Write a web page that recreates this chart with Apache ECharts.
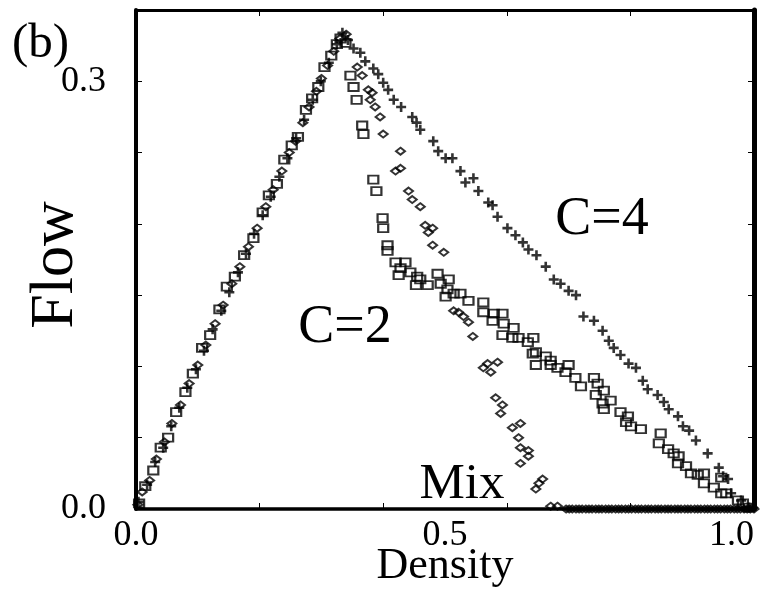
<!DOCTYPE html>
<html>
<head>
<meta charset="utf-8">
<script src="https://cdn.jsdelivr.net/npm/echarts@6/dist/echarts.min.js"></script>
<style>
html,body{margin:0;padding:0;background:#fff;}
#chart{width:775px;height:602px;}
</style>
</head>
<body>
<div id="chart"></div>
<script>
// Density / Flow data: [density, flow]
var c4Points = [
  [0.004,0.005],[0.018,0.017],[0.031,0.033],[0.044,0.043],[0.057,0.058],[0.07,0.071],[0.083,0.085],[0.097,0.098],
  [0.11,0.111],[0.124,0.126],[0.138,0.139],[0.151,0.152],[0.165,0.166],[0.178,0.179],[0.191,0.193],[0.205,0.206],
  [0.218,0.219],[0.232,0.233],[0.245,0.246],[0.259,0.26],[0.272,0.273],[0.286,0.287],[0.299,0.3],[0.312,0.313],
  [0.325,0.326],[0.334,0.334],
  [0.343,0.329],[0.352,0.323],[0.363,0.320],[0.371,0.314],[0.384,0.309],[0.392,0.305],[0.400,0.299],[0.408,0.294],
  [0.417,0.287],[0.429,0.282],[0.447,0.275],[0.454,0.271],[0.460,0.266],[0.481,0.258],[0.489,0.251],[0.501,0.246],
  [0.512,0.246],[0.525,0.237],[0.533,0.229],[0.546,0.232],[0.554,0.223],[0.570,0.215],[0.577,0.213],[0.585,0.205],
  [0.601,0.197],[0.614,0.192],[0.626,0.187],[0.635,0.182],[0.648,0.178],[0.663,0.170],[0.676,0.161],[0.687,0.158],
  [0.700,0.153],[0.712,0.150],[0.724,0.135],[0.741,0.132],[0.755,0.125],[0.765,0.118],[0.773,0.113],[0.784,0.108],
  [0.797,0.102],[0.809,0.099],[0.820,0.090],[0.828,0.084],[0.844,0.080],[0.854,0.075],[0.862,0.070],[0.877,0.065],
  [0.885,0.058],[0.895,0.055],[0.906,0.048],[0.925,0.039],[0.943,0.029],[0.950,0.023],[0.958,0.021],[0.963,0.011],
  [0.979,0.006],[0.992,0.001]
];
var c2Points = [
  [0.005,0.004],[0.015,0.016],[0.028,0.027],[0.040,0.043],[0.052,0.050],[0.065,0.068],[0.080,0.082],[0.092,0.095],
  [0.107,0.113],[0.120,0.122],[0.135,0.140],[0.147,0.156],[0.160,0.163],[0.175,0.178],[0.190,0.190],[0.205,0.208],
  [0.215,0.220],[0.228,0.228],[0.240,0.245],[0.252,0.255],[0.262,0.261],[0.275,0.280],[0.285,0.288],[0.295,0.296],
  [0.305,0.310],[0.316,0.318],[0.325,0.326],[0.331,0.330],[0.339,0.327],
  [0.347,0.304],[0.352,0.296],[0.357,0.287],[0.366,0.269],[0.368,0.263],[0.384,0.231],[0.389,0.223],[0.399,0.204],
  [0.400,0.197],[0.407,0.185],[0.407,0.181],[0.420,0.173],[0.428,0.169],[0.436,0.173],[0.444,0.166],[0.455,0.163],
  [0.425,0.164],[0.453,0.157],[0.460,0.161],[0.472,0.157],[0.488,0.165],[0.493,0.158],[0.506,0.161],[0.504,0.154],
  [0.501,0.149],[0.514,0.151],[0.525,0.151],[0.538,0.146],[0.562,0.145],[0.562,0.138],[0.579,0.137],[0.593,0.137],
  [0.577,0.132],[0.595,0.130],[0.611,0.127],[0.593,0.122],[0.609,0.120],[0.619,0.120],[0.634,0.117],[0.643,0.120],
  [0.642,0.109],[0.647,0.110],[0.663,0.107],[0.647,0.101],[0.671,0.104],[0.671,0.101],[0.682,0.099],[0.695,0.096],
  [0.700,0.101],[0.711,0.092],[0.720,0.086],[0.741,0.092],[0.747,0.088],[0.744,0.080],[0.755,0.074],[0.757,0.083],
  [0.768,0.076],[0.757,0.070],[0.784,0.068],[0.796,0.065],[0.793,0.061],[0.801,0.058],[0.817,0.056],[0.849,0.053],
  [0.846,0.046],[0.861,0.042],[0.870,0.039],[0.878,0.037],[0.877,0.032],[0.890,0.030],[0.898,0.025],[0.909,0.024],
  [0.919,0.025],[0.919,0.018],[0.935,0.015],[0.947,0.022],[0.947,0.011],[0.955,0.011],[0.974,0.006],[0.982,0.004],
  [0.992,0.001]
];
var mixPoints = [
  [0.003,0.003],[0.010,0.012],[0.022,0.020],[0.033,0.035],[0.046,0.047],[0.058,0.060],[0.072,0.073],[0.086,0.088],
  [0.100,0.101],[0.113,0.115],[0.128,0.130],[0.141,0.143],[0.155,0.158],[0.168,0.170],[0.182,0.184],[0.196,0.197],
  [0.210,0.212],[0.222,0.224],[0.236,0.237],[0.248,0.250],[0.258,0.258],[0.270,0.271],[0.280,0.282],[0.292,0.293],
  [0.300,0.302],[0.310,0.311],[0.320,0.321],[0.330,0.330],[0.340,0.333],
  [0.358,0.310],[0.366,0.304],[0.376,0.294],[0.382,0.292],[0.379,0.287],[0.387,0.282],[0.395,0.275],[0.400,0.263],
  [0.420,0.237],[0.428,0.239],[0.428,0.251],[0.441,0.223],[0.447,0.217],[0.460,0.212],[0.468,0.199],[0.480,0.197],
  [0.473,0.194],[0.480,0.185],[0.498,0.180],[0.514,0.139],[0.522,0.138],[0.530,0.135],[0.538,0.131],[0.545,0.121],
  [0.569,0.102],[0.585,0.103],[0.562,0.099],[0.574,0.096],[0.582,0.078],[0.593,0.073],[0.590,0.067],[0.609,0.057],
  [0.622,0.060],[0.619,0.050],[0.622,0.043],[0.635,0.041],[0.635,0.037],[0.622,0.032],[0.658,0.021],[0.652,0.018],
  [0.647,0.014],[0.671,0.002],[0.682,0.002],
  [0.696,0.0],[0.701,0.0],[0.706,0.0],[0.712,0.0],[0.717,0.0],[0.722,0.0],[0.728,0.0],[0.733,0.0],[0.738,0.0],
  [0.744,0.0],[0.749,0.0],[0.754,0.0],[0.760,0.0],[0.765,0.0],[0.770,0.0],[0.776,0.0],[0.781,0.0],[0.786,0.0],
  [0.792,0.0],[0.797,0.0],[0.802,0.0],[0.808,0.0],[0.813,0.0],[0.818,0.0],[0.824,0.0],[0.829,0.0],[0.834,0.0],
  [0.840,0.0],[0.845,0.0],[0.850,0.0],[0.856,0.0],[0.861,0.0],[0.866,0.0],[0.872,0.0],[0.877,0.0],[0.882,0.0],
  [0.888,0.0],[0.893,0.0],[0.898,0.0],[0.904,0.0],[0.909,0.0],[0.914,0.0],[0.920,0.0],[0.925,0.0],[0.930,0.0],
  [0.936,0.0],[0.941,0.0],[0.946,0.0],[0.952,0.0],[0.957,0.0],[0.962,0.0],[0.968,0.0],[0.973,0.0],[0.978,0.0],
  [0.984,0.0],[0.989,0.0],[0.994,0.0],[0.998,0.001],[1.0,0.0]
];
var xTickValues = [0.2, 0.4, 0.6, 0.8];
var xLabelValues = [0.0, 0.5, 1.0];
var yTickValues = [0.05, 0.10, 0.15, 0.20, 0.25, 0.30];
var yLabelValues = [0.0, 0.3];

var FONT = '"Liberation Serif", "Times New Roman", serif';
var chart = echarts.init(document.getElementById('chart'), null, {renderer: 'canvas'});
function baseAxis(pos, lineW, labels) {
  return {
    type: 'value', position: pos,
    axisLine: {show: true, onZero: false, lineStyle: {color: '#000', width: lineW}},
    axisTick: {show: true, inside: true, length: 6, lineStyle: {color: '#000', width: 1}},
    splitLine: {show: false},
    axisLabel: {show: labels, color: '#000', fontFamily: FONT, fontSize: 36},
    animation: false
  };
}
var xb = baseAxis('bottom', 3.5, true);
xb.min = 0; xb.max = 1.0;
xb.axisTick.customValues = xTickValues;
xb.axisLabel.customValues = xLabelValues;
xb.axisLabel.margin = 9;
xb.axisLabel.alignMaxLabel = 'right';
xb.axisLabel.formatter = function (v) { return v.toFixed(1); };
var xt = baseAxis('top', 3, false);
xt.min = 0; xt.max = 1.0;
xt.axisTick.customValues = xTickValues;
var yl = baseAxis('left', 4, true);
yl.min = 0; yl.max = 0.35;
yl.axisTick.customValues = yTickValues;
yl.axisLabel.customValues = yLabelValues;
yl.axisLabel.margin = 30;
yl.axisLabel.formatter = function (v) { return v.toFixed(1); };
var yr = baseAxis('right', 5, false);
yr.min = 0; yr.max = 0.35;
yr.axisTick.customValues = yTickValues;

var option = {
  backgroundColor: '#fff',
  animation: false,
  grid: {left: 136, right: 21, top: 10, bottom: 93},
  xAxis: [xb, xt],
  yAxis: [yl, yr],
  series: [
    {name: 'C=4', type: 'scatter', data: c4Points, symbol: 'path://M3.7,0H6.3V3.7H10V6.3H6.3V10H3.7V6.3H0V3.7H3.7Z', symbolSize: 10,
     itemStyle: {color: '#000'}, z: 3},
    {name: 'Mix', type: 'scatter', data: mixPoints, symbol: 'diamond', symbolSize: [9, 7],
     itemStyle: {color: 'rgba(0,0,0,0)', borderColor: '#000', borderWidth: 2}, z: 4},
    {name: 'C=2', type: 'scatter', data: c2Points, symbol: 'rect', symbolSize: [10, 8],
     itemStyle: {color: 'rgba(0,0,0,0)', borderColor: '#000', borderWidth: 2}, z: 5}
  ],
  graphic: [
    {type: 'text', x: 12, y: 44, style: {text: '(b)', font: '49px ' + FONT, fill: '#000', align: 'left', verticalAlign: 'middle'}},
    {type: 'text', x: 56, y: 265, rotation: Math.PI / 2, style: {text: 'Flow', font: '62px ' + FONT, fill: '#000', align: 'center', verticalAlign: 'middle'}},
    {type: 'text', x: 445, y: 566, style: {text: 'Density', font: '44px ' + FONT, fill: '#000', align: 'center', verticalAlign: 'middle'}},
    {type: 'text', x: 602, y: 220, style: {text: 'C=4', font: '54px ' + FONT, fill: '#000', align: 'center', verticalAlign: 'middle'}},
    {type: 'text', x: 345, y: 328, style: {text: 'C=2', font: '54px ' + FONT, fill: '#000', align: 'center', verticalAlign: 'middle'}},
    {type: 'text', x: 462, y: 485, style: {text: 'Mix', font: '51px ' + FONT, fill: '#000', align: 'center', verticalAlign: 'middle'}}
  ]
};
chart.setOption(option);
</script>
</body>
</html>
